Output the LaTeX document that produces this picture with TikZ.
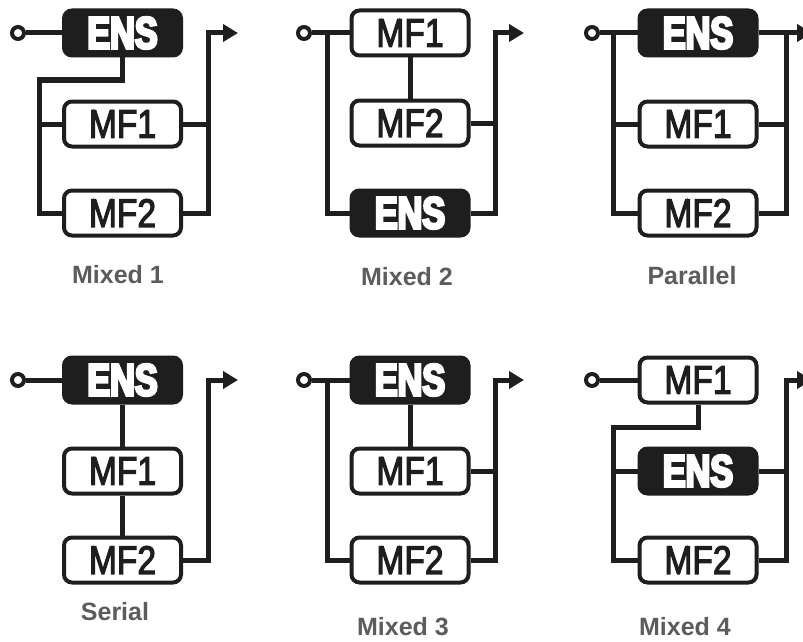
\documentclass[tikz,border=0pt]{standalone}
\usepackage{fontspec}
\setmainfont{Liberation Sans}
\newfontfamily\ensff{Liberation Sans}[FakeStretch=0.76]
\newfontfamily\mfff{Liberation Sans}[FakeStretch=0.84]
\newfontfamily\capff{Liberation Sans}
\usetikzlibrary{arrows.meta}
\definecolor{ink}{HTML}{1E1E1E}
\definecolor{capgray}{HTML}{5C5C5C}
\newcommand{\heavytext}[2]{\special{pdf:code 2 Tr #1 w}#2\special{pdf:code 0 Tr}}
\newcommand{\enstext}{\heavytext{2.6}{ENS}}
\newcommand{\mftext}[1]{\heavytext{1.1}{#1}}
\tikzset{
  blk/.style={rounded corners=8pt, draw=ink, line width=4pt, minimum width=117pt,
    minimum height=45pt, inner sep=0pt},
  ensbox/.style={blk, fill=ink, text=white, font=\ensff\bfseries\fontsize{45}{45}\selectfont},
  mfbox/.style={blk, fill=white, text=ink, font=\mfff\fontsize{40}{40}\selectfont},
  wire/.style={draw=ink, line width=5pt},
  arr/.style={wire, -{Triangle[length=15pt,width=17pt]}},
  inport/.style={circle, draw=ink, line width=4pt, fill=white, minimum size=12pt, inner sep=0pt},
  capt/.style={font=\capff\bfseries\fontsize{25}{25}\selectfont, text=capgray}
}
\begin{document}
\begin{tikzpicture}[x=1pt,y=-1pt]
\useasboundingbox (0,0) rectangle (803,642);
\clip (0,0) rectangle (803,642);
\fill[white] (0,0) rectangle (803,642);

% ---------- Mixed 1 ----------
\node[ensbox] (a-ens) at (122.5,33) {\enstext};
\node[mfbox] (a-mf1) at (122.5,124) {\mftext{MF1}};
\node[mfbox] (a-mf2) at (122.5,213) {\mftext{MF2}};
\coordinate (a-L) at (39,80);
\coordinate (a-R) at (208,33);
\coordinate (a-out) at (238,33);
\draw[wire] (a-ens.south) |- (a-L) -- (a-L |- a-mf2) -- (a-mf2.west);
\draw[wire] (a-L |- a-mf1) -- (a-mf1.west);
\draw[wire] (a-mf1.east) -- (a-mf1 -| a-R);
\draw[arr] (a-mf2.east) -| (a-R) -- (a-out);
\node[inport] (a-in) at (18,33) {};
\draw[wire] (a-in.east) -- (a-ens.west);
\node[capt] (a-cap) at (118,275) {Mixed 1};

% ---------- Mixed 2 ----------
\node[mfbox] (b-mf1) at (410,33) {\mftext{MF1}};
\node[mfbox] (b-mf2) at (410,123) {\mftext{MF2}};
\node[ensbox] (b-ens) at (410,213) {\enstext};
\coordinate (b-L) at (327,33);
\coordinate (b-R) at (495,33);
\coordinate (b-out) at (524,33);
\draw[wire] (b-L) -- (b-L |- b-ens) -- (b-ens.west);
\draw[wire] (b-mf1.south) -- (b-mf2.north);
\draw[wire] (b-mf2.east) -- (b-mf2 -| b-R);
\draw[arr] (b-ens.east) -| (b-R) -- (b-out);
\node[inport] (b-in) at (304,33) {};
\draw[wire] (b-in.east) -- (b-mf1.west);
\node[capt] (b-cap) at (407,277) {Mixed 2};

% ---------- Parallel ----------
\node[ensbox] (c-ens) at (698,33) {\enstext};
\node[mfbox] (c-mf1) at (698,124) {\mftext{MF1}};
\node[mfbox] (c-mf2) at (698,213) {\mftext{MF2}};
\coordinate (c-L) at (613,33);
\coordinate (c-R) at (786,33);
\coordinate (c-out) at (812,33);
\draw[wire] (c-L) -- (c-L |- c-mf2) -- (c-mf2.west);
\draw[wire] (c-L |- c-mf1) -- (c-mf1.west);
\draw[wire] (c-mf1.east) -- (c-mf1 -| c-R);
\draw[wire] (c-mf2.east) -| (c-R);
\draw[arr] (c-ens.east) -- (c-out);
\node[inport] (c-in) at (592,33) {};
\draw[wire] (c-in.east) -- (c-ens.west);
\node[capt] (c-cap) at (692,276) {Parallel};

% ---------- Serial ----------
\node[ensbox] (d-ens) at (122.5,380) {\enstext};
\node[mfbox] (d-mf1) at (122.5,471) {\mftext{MF1}};
\node[mfbox] (d-mf2) at (122.5,560) {\mftext{MF2}};
\coordinate (d-R) at (208,380);
\coordinate (d-out) at (238,380);
\draw[wire] (d-ens.south) -- (d-mf1.north);
\draw[wire] (d-mf1.south) -- (d-mf2.north);
\draw[arr] (d-mf2.east) -| (d-R) -- (d-out);
\node[inport] (d-in) at (18,380) {};
\draw[wire] (d-in.east) -- (d-ens.west);
\node[capt] (d-cap) at (115,612) {Serial};

% ---------- Mixed 3 ----------
\node[ensbox] (e-ens) at (410,380) {\enstext};
\node[mfbox] (e-mf1) at (410,471) {\mftext{MF1}};
\node[mfbox] (e-mf2) at (410,560) {\mftext{MF2}};
\coordinate (e-L) at (327,380);
\coordinate (e-R) at (495,380);
\coordinate (e-out) at (524,380);
\draw[wire] (e-L) -- (e-L |- e-mf2) -- (e-mf2.west);
\draw[wire] (e-ens.south) -- (e-mf1.north);
\draw[wire] (e-mf1.east) -- (e-mf1 -| e-R);
\draw[arr] (e-mf2.east) -| (e-R) -- (e-out);
\node[inport] (e-in) at (304,380) {};
\draw[wire] (e-in.east) -- (e-ens.west);
\node[capt] (e-cap) at (403,627) {Mixed 3};

% ---------- Mixed 4 ----------
\node[mfbox] (f-mf1) at (698,380) {\mftext{MF1}};
\node[ensbox] (f-ens) at (698,471) {\enstext};
\node[mfbox] (f-mf2) at (698,560) {\mftext{MF2}};
\coordinate (f-L) at (613,427);
\coordinate (f-R) at (786,380);
\coordinate (f-out) at (812,380);
\draw[wire] (f-mf1.south) |- (f-L) -- (f-L |- f-mf2) -- (f-mf2.west);
\draw[wire] (f-L |- f-ens) -- (f-ens.west);
\draw[wire] (f-ens.east) -- (f-ens -| f-R);
\draw[arr] (f-mf2.east) -| (f-R) -- (f-out);
\node[inport] (f-in) at (592,380) {};
\draw[wire] (f-in.east) -- (f-mf1.west);
\node[capt] (f-cap) at (685,627) {Mixed 4};
\end{tikzpicture}
\end{document}
